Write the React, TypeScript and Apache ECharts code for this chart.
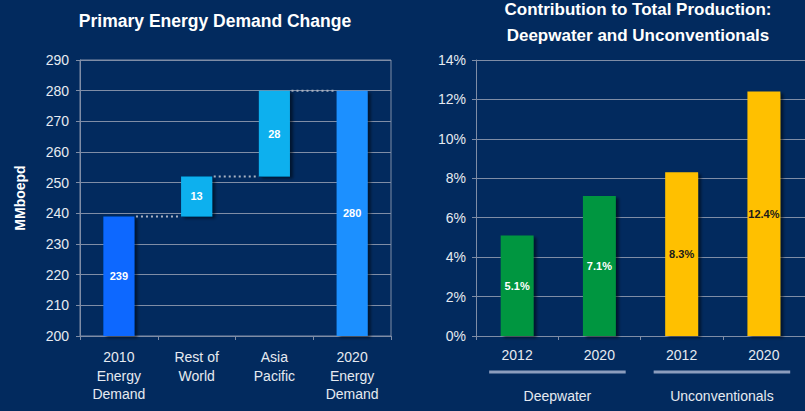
import React, { useEffect, useRef } from 'react';
import * as echarts from 'echarts';

// ---------- Data ----------
const demandCategories = ['2010\nEnergy\nDemand', 'Rest of\nWorld', 'Asia\nPacific', '2020\nEnergy\nDemand'];
const demandValues = [239, 13, 28, 280];
const demandIsTotal = [true, false, false, true];
const demandColors = ['#0a68ff', '#0cb0ee', '#0cb0ee', '#1a90ff'];
const demandAxis = { min: 200, max: 290, interval: 10 };

const prodCategories = ['2012', '2020', '2012', '2020'];
const prodValues = [5.1, 7.1, 8.3, 12.4];
const prodColors = ['#00963f', '#00963f', '#ffc000', '#ffc000'];
const prodLabelColors = ['#ffffff', '#ffffff', '#1a1a1a', '#1a1a1a'];
const prodGroups = ['Deepwater', 'Unconventionals'];
const prodAxis = { min: 0, max: 14, interval: 2 };

const leftTitle = 'Primary Energy Demand Change';
const rightTitle = 'Contribution to Total Production:\nDeepwater and Unconventionals';

// ---------- Styles ----------
const BG = '#022a5e';
const TEXT = '#e6eaf1';
const GRID = '#7f8da6';
const FONT = 'Liberation Sans, Arial, sans-serif';
const BAR_FRAC = 0.4;

export default function App() {
  const ref = useRef<HTMLDivElement>(null);

  useEffect(() => {
    document.body.style.margin = '0';
    if (!ref.current) return;
    const chart = echarts.init(ref.current, undefined, { renderer: 'svg' });

    // waterfall bases (totals start at the axis floor)
    const bases: (number | string)[] = [];
    const tops: number[] = [];
    let run = 0;
    demandValues.forEach((v, i) => {
      if (demandIsTotal[i]) {
        bases.push('-');
        run = v;
      } else {
        bases.push(run);
        run += v;
      }
      tops.push(run);
    });

    const hw = BAR_FRAC / 2;
    const connectorSeries = tops.slice(0, -1).map((t, i) => ({
      type: 'line',
      xAxisIndex: 2,
      yAxisIndex: 0,
      symbol: 'none',
      silent: true,
      lineStyle: { color: '#a9b2c2', width: 2, type: [2, 3] },
      data: [
        [i + hw + 0.02, t],
        [i + 1 - hw, t],
      ],
      z: 1,
    }));

    const shadow = {
      shadowColor: 'rgba(0,0,0,0.5)',
      shadowBlur: 3,
      shadowOffsetX: 3,
      shadowOffsetY: 2,
    };

    const axisLineStyle = { lineStyle: { color: GRID, width: 1 } };

    chart.setOption({
      backgroundColor: BG,
      animation: false,
      textStyle: { fontFamily: FONT },
      grid: [
        { left: 80, top: 60, width: 311, bottom: 75, show: true, borderColor: GRID, borderWidth: 1 },
        { left: 476, top: 60, width: 334, bottom: 75 },
      ],
      xAxis: [
        {
          type: 'category',
          gridIndex: 0,
          data: demandCategories,
          axisLine: { onZero: false, ...axisLineStyle },
          axisTick: { show: true, length: 4, lineStyle: { color: GRID } },
          axisLabel: { color: TEXT, fontSize: 14, lineHeight: 18.5, margin: 12, interval: 0 },
          splitLine: { show: false },
        },
        {
          type: 'category',
          gridIndex: 1,
          data: prodCategories,
          axisLine: { onZero: false, ...axisLineStyle },
          axisTick: { show: true, length: 4, lineStyle: { color: GRID } },
          axisLabel: { color: TEXT, fontSize: 14, lineHeight: 18, margin: 10, interval: 0 },
          splitLine: { show: false },
        },
        {
          type: 'value',
          gridIndex: 0,
          min: -0.5,
          max: demandCategories.length - 0.5,
          show: false,
          axisLine: { show: false, onZero: false },
          axisTick: { show: false },
          axisLabel: { show: false },
          splitLine: { show: false },
        },
      ],
      yAxis: [
        {
          type: 'value',
          gridIndex: 0,
          min: demandAxis.min,
          max: demandAxis.max,
          interval: demandAxis.interval,
          name: 'MMboepd',
          nameLocation: 'middle',
          nameGap: 53,
          nameRotate: 90,
          nameTextStyle: { color: '#ffffff', fontSize: 14, fontWeight: 'bold' },
          axisLine: { show: true, onZero: false, ...axisLineStyle },
          axisTick: { show: true, length: 4, lineStyle: { color: GRID } },
          axisLabel: { color: TEXT, fontSize: 14, margin: 11 },
          splitLine: { lineStyle: { color: GRID, width: 1 } },
        },
        {
          type: 'value',
          gridIndex: 1,
          min: prodAxis.min,
          max: prodAxis.max,
          interval: prodAxis.interval,
          axisLine: { show: true, onZero: false, ...axisLineStyle },
          axisTick: { show: true, length: 4, lineStyle: { color: GRID } },
          axisLabel: { color: TEXT, fontSize: 14, margin: 10, formatter: '{value}%' },
          splitLine: { lineStyle: { color: GRID, width: 1 } },
        },
      ],
      series: [
        {
          type: 'bar',
          xAxisIndex: 0,
          yAxisIndex: 0,
          stack: 'waterfall',
          barWidth: `${BAR_FRAC * 100}%`,
          silent: true,
          itemStyle: { color: 'rgba(0,0,0,0)', borderWidth: 0 },
          data: bases,
          z: 2,
        },
        {
          type: 'bar',
          xAxisIndex: 0,
          yAxisIndex: 0,
          stack: 'waterfall',
          barWidth: `${BAR_FRAC * 100}%`,
          data: demandValues.map((v, i) => ({ value: v, itemStyle: { color: demandColors[i], ...shadow } })),
          label: {
            show: true,
            position: 'inside',
            color: '#ffffff',
            fontSize: 11,
            fontWeight: 'bold',
          },
          z: 3,
        },
        ...connectorSeries,
        {
          type: 'bar',
          xAxisIndex: 1,
          yAxisIndex: 1,
          barWidth: `${BAR_FRAC * 100}%`,
          data: prodValues.map((v, i) => ({
            value: v,
            itemStyle: { color: prodColors[i], ...shadow },
            label: { color: prodLabelColors[i] },
          })),
          label: {
            show: true,
            position: 'inside',
            fontSize: 11,
            fontWeight: 'bold',
            formatter: (p: any) => `${p.value.toFixed(1)}%`,
          },
          z: 3,
        },
      ],
    });

    // group brackets under the right chart, positioned via the axis scale
    const px = (i: number) => chart.convertToPixel({ xAxisIndex: 1 }, i) as number;
    const cw = px(1) - px(0);
    const yBase = chart.convertToPixel({ yAxisIndex: 1 }, prodAxis.min) as number;
    const groupEls: any[] = [];
    prodGroups.forEach((g, gi) => {
      const x1 = px(gi * 2) - 0.34 * cw;
      const x2 = px(gi * 2 + 1) + 0.32 * cw;
      groupEls.push({
        type: 'line',
        shape: { x1, y1: yBase + 36, x2, y2: yBase + 36 },
        style: { stroke: '#8c9dbd', lineWidth: 3 },
      });
      groupEls.push({
        type: 'text',
        x: (x1 + x2) / 2,
        y: yBase + 60,
        style: {
          text: g,
          fill: TEXT,
          font: `14px ${FONT}`,
          textAlign: 'center',
          textVerticalAlign: 'middle',
          align: 'center',
          verticalAlign: 'middle',
        },
      });
    });

    chart.setOption({
      graphic: [
        {
          type: 'text',
          x: 215,
          y: 21,
          style: {
            text: leftTitle,
            fill: '#ffffff',
            font: `bold 17.5px ${FONT}`,
            textAlign: 'center',
            textVerticalAlign: 'middle',
            align: 'center',
            verticalAlign: 'middle',
          },
        },
        {
          type: 'text',
          x: 638,
          y: 22,
          style: {
            text: rightTitle,
            fill: '#ffffff',
            font: `bold 17px ${FONT}`,
            lineHeight: 26,
            textAlign: 'center',
            textVerticalAlign: 'middle',
            align: 'center',
            verticalAlign: 'middle',
          },
        },
        ...groupEls,
      ],
    });

    return () => chart.dispose();
  }, []);

  return <div ref={ref} style={{ width: 805, height: 411 }} />;
}
